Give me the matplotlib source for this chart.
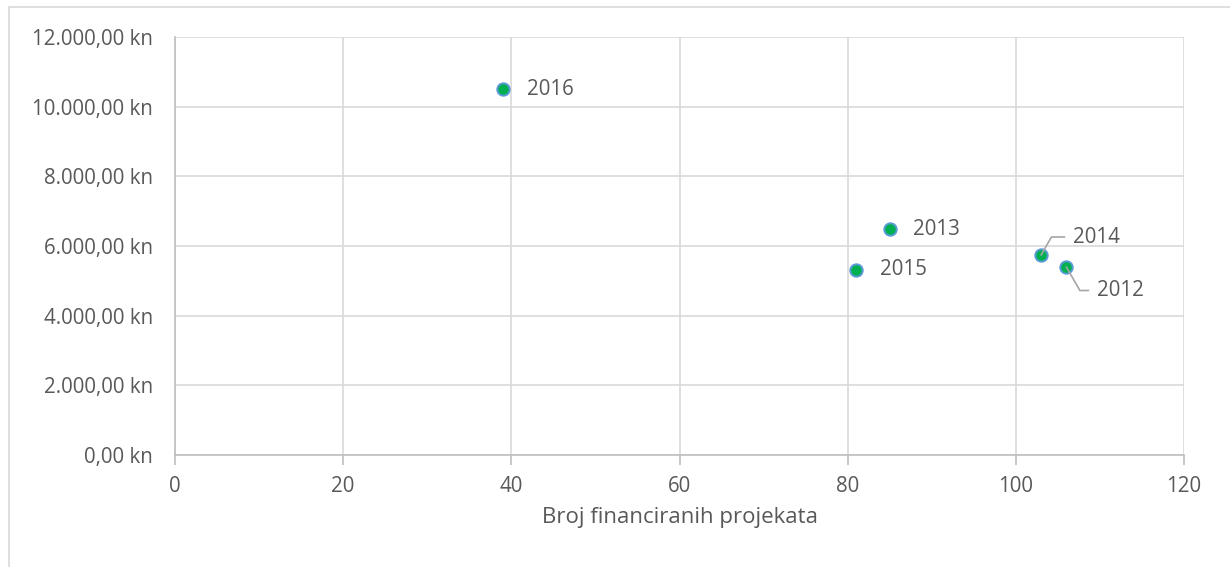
import matplotlib
matplotlib.use("Agg")
import matplotlib.pyplot as plt
from matplotlib.patches import Rectangle
from matplotlib.ticker import FuncFormatter

years = ["2012", "2013", "2014", "2015", "2016"]
projects = [106, 85, 103, 81, 39]
amount = [5400, 6480, 5740, 5320, 10500]

plt.rcParams["font.family"] = ["Open Sans", "DejaVu Sans"]
txt = "#595959"
grid = "#D9D9D9"
fs = 14.8

fig = plt.figure(figsize=(12.3, 5.67), dpi=100)
ax = fig.add_axes([175 / 1230, 1 - 455 / 567, (1184 - 175) / 1230, (455 - 37) / 567])

# outer chart border
fig.patches.append(Rectangle((9 / 1230, -0.1), 1.2, 1 - 7 / 567 + 0.1,
                             transform=fig.transFigure, fill=False,
                             edgecolor="#D9D9D9", linewidth=1.2))

ax.scatter(projects, amount, s=80, color="#00B050", edgecolor="#5B9BD5",
           linewidth=1.4, zorder=3)

for yr, x, y in zip(years, projects, amount):
    if yr == "2014":
        ax.annotate(yr, (x, y), xytext=(23, 13), textcoords="offset points",
                    fontsize=fs, color=txt, va="center", ha="left",
                    arrowprops=dict(arrowstyle="-", color="#A6A6A6", lw=1.2,
                                    connectionstyle="angle,angleA=0,angleB=60,rad=0",
                                    shrinkA=4, shrinkB=0))
    elif yr == "2012":
        ax.annotate(yr, (x, y), xytext=(22, -17), textcoords="offset points",
                    fontsize=fs, color=txt, va="center", ha="left",
                    arrowprops=dict(arrowstyle="-", color="#A6A6A6", lw=1.2,
                                    connectionstyle="angle,angleA=0,angleB=-60,rad=0",
                                    shrinkA=4, shrinkB=0))
    else:
        ax.annotate(yr, (x, y), xytext=(17, 0), textcoords="offset points",
                    fontsize=fs, color=txt, va="center", ha="left")

ax.set_xlim(0, 120)
ax.set_ylim(0, 12000)
ax.set_xticks(range(0, 121, 20))
ax.set_yticks(range(0, 12001, 2000))
ax.yaxis.set_major_formatter(FuncFormatter(
    lambda v, p: "{:,.2f}".format(v).replace(",", "X").replace(".", ",").replace("X", ".") + " kn"))
ax.grid(True, color=grid, linewidth=1.2)
ax.set_axisbelow(True)
for s in ["top", "right"]:
    ax.spines[s].set_visible(False)
for s in ["left", "bottom"]:
    ax.spines[s].set_color("#BFBFBF")
    ax.spines[s].set_linewidth(1.2)
ax.tick_params(axis="x", colors="#BFBFBF", labelcolor=txt, labelsize=fs,
               length=7, width=1.2, pad=8)
ax.tick_params(axis="y", colors="#BFBFBF", labelcolor=txt, labelsize=fs,
               length=0, pad=16)
ax.set_xlabel("Broj financiranih projekata", fontsize=16, color=txt, labelpad=7)

fig.savefig("out.png", dpi=100)
